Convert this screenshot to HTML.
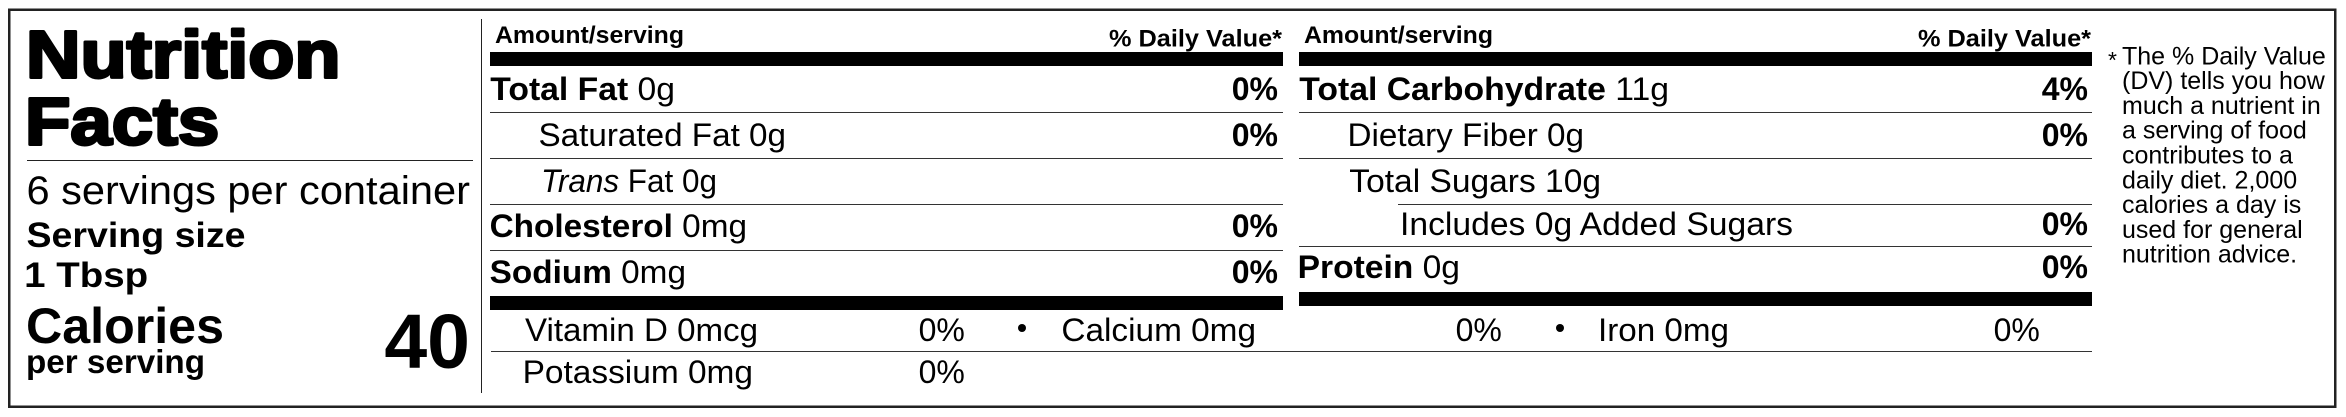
<!DOCTYPE html>
<html>
<head>
<meta charset="utf-8">
<style>
  html, body { margin: 0; padding: 0; background: #fff; overflow: hidden; }
  svg { display: block; }
  text { font-family: "Liberation Sans", Arial, sans-serif; fill: #000; }
</style>
</head>
<body>
<svg width="2346" height="417" viewBox="0 0 2346 417" xmlns="http://www.w3.org/2000/svg">
  <rect x="0" y="0" width="2346" height="417" fill="#fff"/>
  <!-- outer border -->
  <rect x="9.25" y="9.75" width="2326" height="397" fill="none" stroke="#222" stroke-width="2.5"/>

  <!-- LEFT PANEL -->
  <text x="26" y="77.5" font-size="67" font-weight="bold" stroke="#000" stroke-width="3" stroke-linejoin="round" textLength="314.5" lengthAdjust="spacingAndGlyphs">Nutrition</text>
  <text x="25" y="144.5" font-size="67" font-weight="bold" stroke="#000" stroke-width="3" stroke-linejoin="round" textLength="194.3" lengthAdjust="spacingAndGlyphs">Facts</text>
  <rect x="27" y="160" width="446" height="1" fill="#222"/>
  <text x="26.5" y="204" font-size="40" textLength="443.5" lengthAdjust="spacingAndGlyphs">6 servings per container</text>
  <text x="26.5" y="247" font-size="35" font-weight="bold" textLength="219" lengthAdjust="spacingAndGlyphs">Serving size</text>
  <text x="24.2" y="287" font-size="35" font-weight="bold" textLength="124" lengthAdjust="spacingAndGlyphs">1 Tbsp</text>
  <text x="26" y="343" font-size="50" font-weight="bold" textLength="198" lengthAdjust="spacingAndGlyphs">Calories</text>
  <text x="26" y="373" font-size="33" font-weight="bold" textLength="179" lengthAdjust="spacingAndGlyphs">per serving</text>
  <text x="470" y="368" font-size="77" font-weight="bold" text-anchor="end">40</text>

  <!-- vertical divider -->
  <rect x="481" y="19" width="1" height="374" fill="#222"/>

  <!-- MIDDLE COLUMN -->
  <text x="495" y="43" font-size="24" font-weight="bold" textLength="189" lengthAdjust="spacingAndGlyphs">Amount/serving</text>
  <text x="1109" y="46.5" font-size="24" font-weight="bold" textLength="173" lengthAdjust="spacingAndGlyphs">% Daily Value*</text>
  <rect x="490" y="52" width="793" height="14" fill="#000"/>

  <text x="490.3" y="100" font-size="32" textLength="184.7" lengthAdjust="spacingAndGlyphs"><tspan font-weight="bold">Total Fat</tspan> 0g</text>
  <text x="1278" y="100" font-size="32" font-weight="bold" text-anchor="end">0%</text>
  <rect x="490" y="112" width="793" height="1" fill="#333"/>

  <text x="538.5" y="146" font-size="32" textLength="247.5" lengthAdjust="spacingAndGlyphs">Saturated Fat 0g</text>
  <text x="1278" y="146" font-size="32" font-weight="bold" text-anchor="end">0%</text>
  <rect x="490" y="158" width="793" height="1" fill="#333"/>

  <text x="541" y="192" font-size="32" textLength="176" lengthAdjust="spacingAndGlyphs"><tspan font-style="italic">Trans</tspan> Fat 0g</text>
  <rect x="490" y="204" width="793" height="1" fill="#333"/>

  <text x="489.6" y="237" font-size="32" textLength="257.4" lengthAdjust="spacingAndGlyphs"><tspan font-weight="bold">Cholesterol</tspan> 0mg</text>
  <text x="1278" y="237" font-size="32" font-weight="bold" text-anchor="end">0%</text>
  <rect x="490" y="250" width="793" height="1" fill="#333"/>

  <text x="489.7" y="283" font-size="32" textLength="196.3" lengthAdjust="spacingAndGlyphs"><tspan font-weight="bold">Sodium</tspan> 0mg</text>
  <text x="1278" y="283" font-size="32" font-weight="bold" text-anchor="end">0%</text>
  <rect x="490" y="296" width="793" height="14" fill="#000"/>

  <!-- vitamins row -->
  <text x="525" y="341" font-size="32" textLength="233" lengthAdjust="spacingAndGlyphs">Vitamin D 0mcg</text>
  <text x="918.6" y="341" font-size="32">0%</text>
  <circle cx="1022" cy="328" r="4" fill="#000"/>
  <text x="1061.4" y="341" font-size="32" textLength="194.6" lengthAdjust="spacingAndGlyphs">Calcium 0mg</text>
  <text x="1455.6" y="341" font-size="32">0%</text>
  <circle cx="1560" cy="328" r="4" fill="#000"/>
  <text x="1598" y="341" font-size="32" textLength="131" lengthAdjust="spacingAndGlyphs">Iron 0mg</text>
  <text x="1993.6" y="341" font-size="32">0%</text>
  <rect x="491" y="351" width="1601" height="1" fill="#333"/>
  <text x="522.6" y="383" font-size="32" textLength="230.4" lengthAdjust="spacingAndGlyphs">Potassium 0mg</text>
  <text x="918.6" y="383" font-size="32">0%</text>

  <!-- RIGHT COLUMN -->
  <text x="1304" y="43" font-size="24" font-weight="bold" textLength="189" lengthAdjust="spacingAndGlyphs">Amount/serving</text>
  <text x="1918" y="46.5" font-size="24" font-weight="bold" textLength="173" lengthAdjust="spacingAndGlyphs">% Daily Value*</text>
  <rect x="1299" y="52" width="793" height="14" fill="#000"/>

  <text x="1299.3" y="100" font-size="32" textLength="369.7" lengthAdjust="spacingAndGlyphs"><tspan font-weight="bold">Total Carbohydrate</tspan> 11g</text>
  <text x="2088" y="100" font-size="32" font-weight="bold" text-anchor="end">4%</text>
  <rect x="1299" y="112" width="793" height="1" fill="#333"/>

  <text x="1347.5" y="146" font-size="32" textLength="236.5" lengthAdjust="spacingAndGlyphs">Dietary Fiber 0g</text>
  <text x="2088" y="146" font-size="32" font-weight="bold" text-anchor="end">0%</text>
  <rect x="1299" y="158" width="793" height="1" fill="#333"/>

  <text x="1349.3" y="192" font-size="32" textLength="251.7" lengthAdjust="spacingAndGlyphs">Total Sugars 10g</text>
  <rect x="1398" y="204" width="694" height="1" fill="#333"/>

  <text x="1400" y="235" font-size="32" textLength="393" lengthAdjust="spacingAndGlyphs">Includes 0g Added Sugars</text>
  <text x="2088" y="235" font-size="32" font-weight="bold" text-anchor="end">0%</text>
  <rect x="1299" y="246" width="793" height="1" fill="#333"/>

  <text x="1297.6" y="278" font-size="32" textLength="162.4" lengthAdjust="spacingAndGlyphs"><tspan font-weight="bold">Protein</tspan> 0g</text>
  <text x="2088" y="278" font-size="32" font-weight="bold" text-anchor="end">0%</text>
  <rect x="1299" y="292" width="793" height="14" fill="#000"/>

  <!-- FOOTNOTE -->
  <text x="2108" y="68" font-size="23">*</text>
  <text x="2122" y="64.3" font-size="25">The % Daily Value</text>
  <text x="2122" y="89.1" font-size="25">(DV) tells you how</text>
  <text x="2122" y="113.9" font-size="25">much a nutrient in</text>
  <text x="2122" y="138.7" font-size="25">a serving of food</text>
  <text x="2122" y="163.5" font-size="25">contributes to a</text>
  <text x="2122" y="188.3" font-size="25">daily diet. 2,000</text>
  <text x="2122" y="213.1" font-size="25">calories a day is</text>
  <text x="2122" y="237.9" font-size="25">used for general</text>
  <text x="2122" y="262.7" font-size="25">nutrition advice.</text>
</svg>
</body>
</html>
